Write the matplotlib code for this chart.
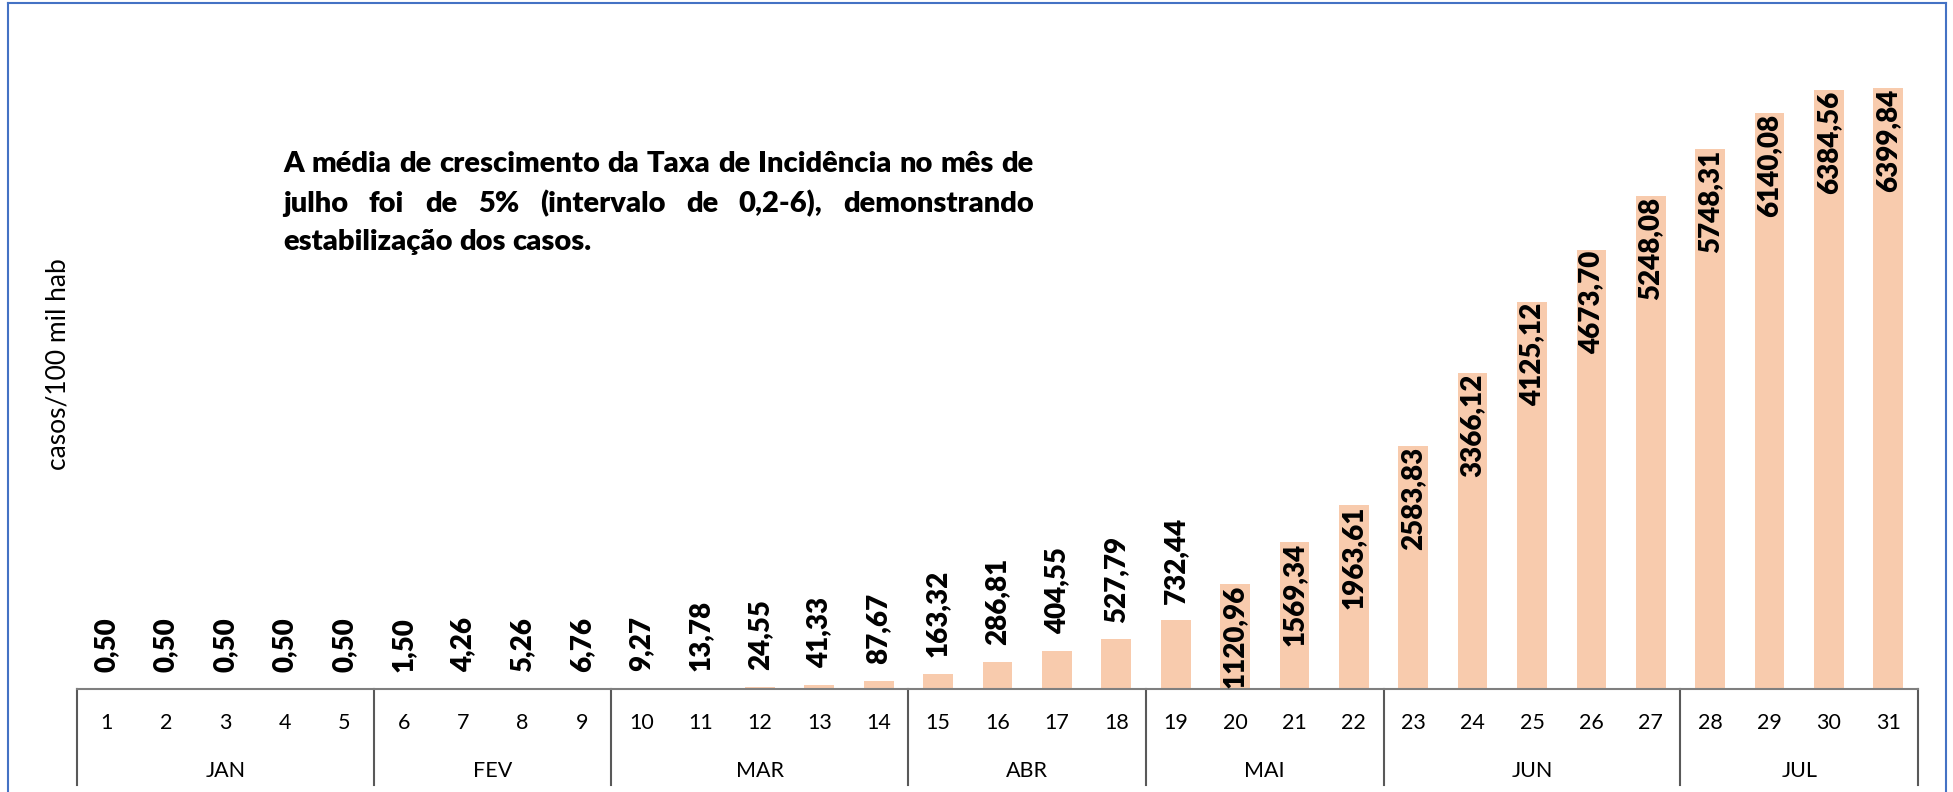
import matplotlib
matplotlib.use("Agg")
import matplotlib.pyplot as plt
from matplotlib.lines import Line2D

plt.rcParams['font.family'] = ['Lato', 'DejaVu Sans']

# dados
semanas = [str(i) for i in range(1, 32)]
taxa = [0.50, 0.50, 0.50, 0.50, 0.50, 1.50, 4.26, 5.26, 6.76, 9.27, 13.78,
        24.55, 41.33, 87.67, 163.32, 286.81, 404.55, 527.79, 732.44, 1120.96,
        1569.34, 1963.61, 2583.83, 3366.12, 4125.12, 4673.70, 5248.08,
        5748.31, 6140.08, 6384.56, 6399.84]
meses = ['JAN', 'FEV', 'MAR', 'ABR', 'MAI', 'JUN', 'JUL']
semanas_por_mes = [5, 4, 5, 4, 4, 5, 4]

texto = ["A média de crescimento da Taxa de Incidência no mês de",
         "julho foi de 5% (intervalo de 0,2-6), demonstrando",
         "estabilização dos casos."]

W, H = 1953, 792
fig = plt.figure(figsize=(W / 100, H / 100), dpi=100)
ax = fig.add_axes([77 / W, 1 - 689 / H, 1841 / W, 657 / H])

x = list(range(len(taxa)))
bars = ax.bar(x, taxa, width=0.5, color='#F8CBAD', zorder=2)
ax.set_xlim(-0.5, len(taxa) - 0.5)
ax.set_ylim(0, 7000)

# rotulos de dados (dentro da barra quando cabe)
for i, v in enumerate(taxa):
    lab = f"{v:.2f}".replace('.', ',')
    if v > 1000:
        ax.annotate(lab, (i, v), xytext=(0, -0.5), textcoords='offset points',
                    rotation=90, ha='center', va='top', fontsize=20,
                    fontweight=800)
    else:
        ax.annotate(lab, (i, v), xytext=(0, 12), textcoords='offset points',
                    rotation=90, ha='center', va='bottom', fontsize=20,
                    fontweight=800)

for s in ['top', 'right', 'left']:
    ax.spines[s].set_visible(False)
ax.spines['bottom'].set_color('#7f7f7f')
ax.spines['bottom'].set_linewidth(1.5)
ax.set_yticks([])
ax.set_xticks([])

# eixo de categorias em dois niveis
trans = ax.get_xaxis_transform()
for i, s in enumerate(semanas):
    ax.text(i, -0.052, s, transform=trans, ha='center', va='center',
            fontsize=15.5)
pos = -0.5
ax.plot([pos, pos], [0, -0.146], transform=trans, color='#595959', lw=1.5,
        clip_on=False)
for m, n in zip(meses, semanas_por_mes):
    ax.text(pos + n / 2, -0.125, m, transform=trans, ha='center',
            va='center', fontsize=15.5)
    pos += n
    ax.plot([pos, pos], [0, -0.146], transform=trans, color='#595959',
            lw=1.5, clip_on=False)

fig.text(58 / W, 1 - 364 / H, 'casos/100 mil hab', rotation=90,
         ha='center', va='center', fontsize=19)

# texto justificado
fig.canvas.draw()
r = fig.canvas.get_renderer()
x0, x1 = 283, 1034
baselines = [172, 212, 250]


def largura(s, fs):
    t = fig.text(0, 0, s, fontsize=fs, fontweight=800)
    w = t.get_window_extent(r).width
    t.remove()
    return w


fs = 10 * (x1 - x0 - 6) / largura(texto[0], 10)
esp = largura('a a', fs) - largura('aa', fs)
for k, linha in enumerate(texto):
    palavras = linha.split()
    ws = [largura(p, fs) for p in palavras]
    if k < len(texto) - 1:
        gap = (x1 - x0 - sum(ws)) / (len(palavras) - 1)
    else:
        gap = esp
    xp = x0
    for p, w in zip(palavras, ws):
        fig.text(xp / W, 1 - baselines[k] / H, p, fontsize=fs,
                 fontweight=800, ha='left', va='baseline')
        xp += w + gap

# borda azul
cor = '#4472C4'
fig.add_artist(Line2D([8 / W, 8 / W], [0, 1 - 3 / H], color=cor, lw=1.5))
fig.add_artist(Line2D([8 / W, 1946 / W], [1 - 3 / H, 1 - 3 / H], color=cor, lw=1.5))
fig.add_artist(Line2D([1946 / W, 1946 / W], [0, 1 - 3 / H], color=cor, lw=1.5))

fig.savefig('out.png', dpi=100)
